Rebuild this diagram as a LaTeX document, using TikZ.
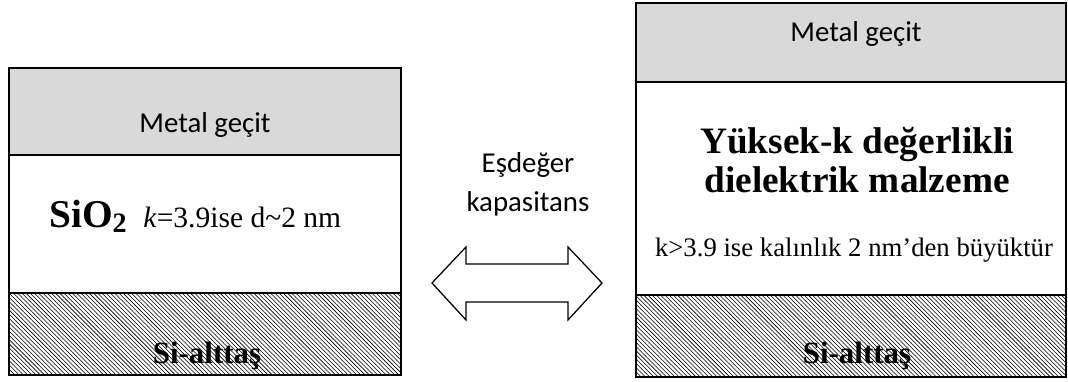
\documentclass[tikz,border=0pt]{standalone}
\usepackage{fontspec}
\setmainfont{Liberation Serif}
\setsansfont{Carlito}
\usetikzlibrary{patterns}
\definecolor{gategray}{HTML}{D9D9D9}

\begin{document}
\begin{tikzpicture}[
    layer/.style={draw, line width=1.2pt, outer sep=0, inner sep=0},
    gatelayer/.style={layer, fill=gategray},
    oxidelayer/.style={layer, fill=white},
    sublayer/.style={layer, pattern=north west lines},
    sanslabel/.style={font=\sffamily\fontsize{20.5}{28.45}\selectfont, anchor=base, inner sep=0},
    sublabel/.style={font=\bfseries\fontsize{22}{26}\selectfont, anchor=base, inner sep=0}]
    \useasboundingbox (0,0) rectangle (26.7,9.525);

    % Left stack: metal gate
    \node[gatelayer,
      minimum width=9.8cm,
      minimum height=2.175cm] (LGate) at (5.125,6.7375) {};

    % Left stack: SiO2
    \node[oxidelayer,
      minimum width=9.8cm,
      minimum height=3.45cm] (LOxide) at (5.125,3.925) {};

    % Left stack: substrate
    \node[sublayer,
      minimum width=9.8cm,
      minimum height=2.05cm] (LSub) at (5.125,1.175) {};

    % Right stack: metal gate
    \node[gatelayer,
      minimum width=10.75cm,
      minimum height=1.975cm] (RGate) at (21.275,8.4625) {};

    % Right stack: high-k
    \node[oxidelayer,
      minimum width=10.75cm,
      minimum height=5.325cm] (ROxide) at (21.275,4.8125) {};

    % Right stack: substrate
    \node[sublayer,
      minimum width=10.75cm,
      minimum height=2.05cm] (RSub) at (21.275,1.125) {};

    % Text labels
    \node[sanslabel] (LGateText) at (5.125,6.2) {Metal geçit};
    \node[sanslabel] (RGateText) at (21.4,8.475) {Metal geçit};
    \node[font=\bfseries\fontsize{28}{30}\selectfont, anchor=base west, inner sep=0]
      (SiOText) at (1.225,3.825) {SiO\raisebox{-0.25ex}{\fontsize{20}{22}\selectfont 2}};
    \node[font=\fontsize{21}{24}\selectfont, anchor=base west, inner sep=0]
      (KLeftText) at (3.575,3.825) {\textit{k}=3.9ise d\textasciitilde2 nm};
    \node[font=\bfseries\fontsize{26.5}{28.45}\selectfont, anchor=base, inner sep=0,
      align=center] (HighKText) at (21.425,4.7) {Yüksek-k değerlikli\\dielektrik malzeme};
    \node[font=\fontsize{19}{24}\selectfont, anchor=base, inner sep=0]
      (KRightText) at (21.35,3.1) {k>3.9 ise kalınlık 2 nm’den büyüktür};
    \node[sublabel] (LSubText) at (5.175,0.45) {Si-alttaş};
    \node[sublabel] (RSubText) at (21.425,0.45) {Si-alttaş};
    \node[sanslabel, align=center] (EqText) at (13.2,4.225) {Eşdeğer\\kapasitans};

    % Equivalence arrow
    \draw[line width=0.9pt, fill=white] (10.8,2.45) -- (11.65,3.35) -- (11.65,2.925)
      -- (14.2,2.925) -- (14.2,3.35) -- (15.05,2.45) -- (14.2,1.525) -- (14.2,1.975)
      -- (11.65,1.975) -- (11.65,1.525) -- cycle;
  \end{tikzpicture}
\end{document}
